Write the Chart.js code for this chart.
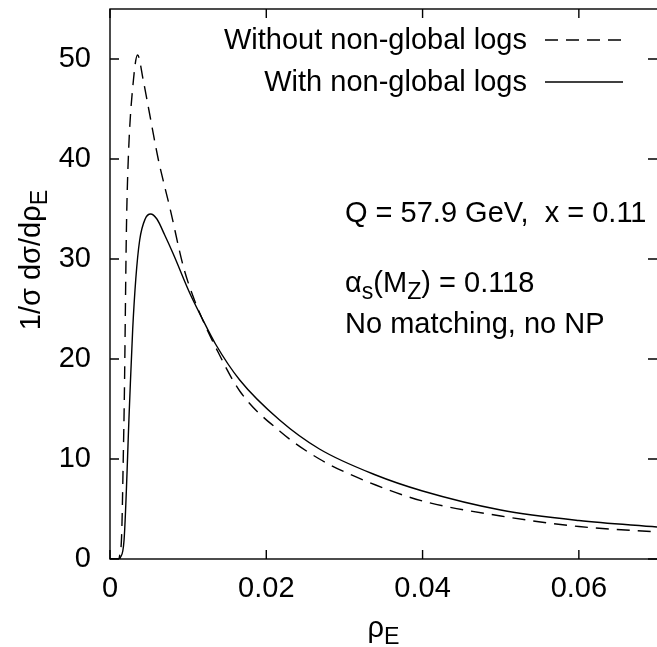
<!DOCTYPE html>
<html lang="en">
<head>
<meta charset="UTF-8">
<title>rho_E distribution</title>
<script src="https://cdn.jsdelivr.net/npm/chart.js"></script>
<style>
  body { margin: 0; background: #fff; }
  #wrap { width: 657px; height: 647px; }
</style>
</head>
<body>
<div id="wrap"><canvas id="plot" width="657" height="647"></canvas></div>
<script>
// curve without non-global logs (dashed)
const withoutNgX = [0, 0.0011, 0.0012, 0.0015, 0.0017, 0.00183, 0.0021, 0.00234, 0.0030, 0.00353, 0.00425, 0.0050, 0.00617, 0.0077, 0.0094, 0.0108, 0.0117, 0.0135, 0.0166, 0.0217, 0.0268, 0.034, 0.040, 0.050, 0.060, 0.070];
const withoutNgY = [0, 0, 0.2, 2.6, 10.2, 15.9, 32.9, 40.0, 47.9, 50.4, 47.9, 44.8, 40.0, 35.0, 29.2, 25.9, 24.2, 21.2, 16.8, 12.8, 10.0, 7.4, 5.8, 4.3, 3.25, 2.7];

// curve with non-global logs (solid)
const withNgX = [0, 0.0012, 0.0013, 0.0018, 0.0025, 0.0029, 0.0033, 0.0038, 0.0045, 0.0052, 0.0060, 0.0070, 0.0081, 0.0102, 0.0117, 0.0135, 0.0166, 0.0217, 0.0268, 0.034, 0.040, 0.050, 0.060, 0.070];
const withNgY = [0, 0, 0.1, 1.9, 15.5, 22.9, 28.0, 31.9, 34.0, 34.5, 34.0, 32.4, 30.5, 26.6, 24.2, 21.5, 17.9, 13.9, 11.0, 8.4, 6.8, 4.9, 3.85, 3.2];

const xTicks = [0, 0.02, 0.04, 0.06];
const yTicks = [0, 10, 20, 30, 40, 50];
const seriesNames = ["Without non-global logs", "With non-global logs"];

const FONT = "'Liberation Sans', Arial, sans-serif";
const FS = 29;

function toPoints(xs, ys) {
    return xs.map((x, i) => ({ x: x, y: ys[i] }));
}

// draw text made of pieces, some of them subscripts
function richText(ctx, x, y, parts, size) {
    let cx = x;
    parts.forEach(p => {
        const s = p.sub ? size * 0.8 : size;
        ctx.font = s + "px " + FONT;
        ctx.fillText(p.t, cx, p.sub ? y + size * 0.25 : y);
        cx += ctx.measureText(p.t).width;
    });
}

function richWidth(ctx, parts, size) {
    let w = 0;
    parts.forEach(p => {
        ctx.font = (p.sub ? size * 0.8 : size) + "px " + FONT;
        w += ctx.measureText(p.t).width;
    });
    return w;
}

const decor = {
    id: "decor",
    afterDatasetsDraw(chart) {
        const { ctx, chartArea: a, scales: { x, y } } = chart;
        ctx.save();
        ctx.strokeStyle = "#000";
        ctx.fillStyle = "#000";
        ctx.lineWidth = 1.4;
        ctx.strokeRect(a.left, a.top, a.right - a.left + 1, a.bottom - a.top);

        // inward ticks, mirrored on top and right
        ctx.beginPath();
        x.ticks.forEach(t => {
            const px = x.getPixelForValue(t.value);
            ctx.moveTo(px, a.bottom); ctx.lineTo(px, a.bottom - 9);
            ctx.moveTo(px, a.top); ctx.lineTo(px, a.top + 9);
        });
        y.ticks.forEach(t => {
            const py = y.getPixelForValue(t.value);
            ctx.moveTo(a.left, py); ctx.lineTo(a.left + 9, py);
            ctx.moveTo(a.right, py); ctx.lineTo(a.right - 9, py);
        });
        ctx.stroke();

        // legend, top right
        ctx.font = FS + "px " + FONT;
        ctx.textAlign = "right";
        ctx.textBaseline = "alphabetic";
        chart.data.datasets.forEach((ds, i) => {
            const ly = 40 + i * 42;
            ctx.fillText(ds.label, 527, ly + 9);
            ctx.save();
            ctx.lineWidth = ds.borderWidth;
            ctx.setLineDash(ds.borderDash || []);
            ctx.beginPath();
            ctx.moveTo(545, ly); ctx.lineTo(623, ly);
            ctx.stroke();
            ctx.restore();
        });

        // annotations
        ctx.textAlign = "left";
        richText(ctx, 345, 222, [{ t: "Q = 57.9 GeV,  x = 0.11" }], FS);
        richText(ctx, 345, 292, [{ t: "\u03b1" }, { t: "s", sub: true }, { t: "(M" }, { t: "Z", sub: true }, { t: ") = 0.118" }], FS);
        richText(ctx, 345, 333, [{ t: "No matching, no NP" }], FS);

        // axis titles
        const xt = [{ t: "\u03c1" }, { t: "E", sub: true }];
        richText(ctx, (a.left + a.right) / 2 - richWidth(ctx, xt, FS) / 2, 637, xt, FS);

        const yt = [{ t: "1/\u03c3 d\u03c3/d\u03c1" }, { t: "E", sub: true }];
        const w = richWidth(ctx, yt, FS);
        ctx.translate(40, 260);
        ctx.rotate(-Math.PI / 2);
        richText(ctx, -w / 2, 0, yt, FS);
        ctx.restore();
    }
};

Chart.defaults.font.family = FONT;
Chart.defaults.font.size = FS;
Chart.defaults.color = "#000";

new Chart(document.getElementById("plot"), {
    type: "scatter",
    data: {
        datasets: [{
            label: seriesNames[0],
            data: toPoints(withoutNgX, withoutNgY),
            showLine: true,
            borderColor: "#000",
            borderWidth: 1.4,
            borderDash: [13, 8],
            pointRadius: 0,
            cubicInterpolationMode: "monotone"
        }, {
            label: seriesNames[1],
            data: toPoints(withNgX, withNgY),
            showLine: true,
            borderColor: "#000",
            borderWidth: 1.4,
            pointRadius: 0,
            cubicInterpolationMode: "monotone"
        }]
    },
    options: {
        responsive: false,
        animation: false,
        layout: { padding: { top: 9, right: 0, left: 0, bottom: 0 } },
        plugins: { legend: { display: false }, tooltip: { enabled: false } },
        scales: {
            x: {
                type: "linear",
                min: 0,
                max: 0.07,
                grid: { display: false, drawTicks: false },
                border: { display: false },
                afterBuildTicks: s => { s.ticks = xTicks.map(v => ({ value: v })); },
                afterFit: s => { s.height = 88; s.paddingLeft = 0; s.paddingRight = 0; },
                ticks: {
                    padding: 13,
                    maxRotation: 0,
                    callback: v => v === 0 ? "0" : v.toFixed(2)
                }
            },
            y: {
                type: "linear",
                min: 0,
                max: 55,
                grid: { display: false, drawTicks: false },
                border: { display: false },
                afterBuildTicks: s => { s.ticks = yTicks.map(v => ({ value: v })); },
                afterFit: s => { s.width = 110; s.paddingTop = 0; s.paddingBottom = 0; },
                ticks: {
                    padding: 19,
                    callback: v => String(v)
                }
            }
        }
    },
    plugins: [decor]
});
</script>
</body>
</html>
